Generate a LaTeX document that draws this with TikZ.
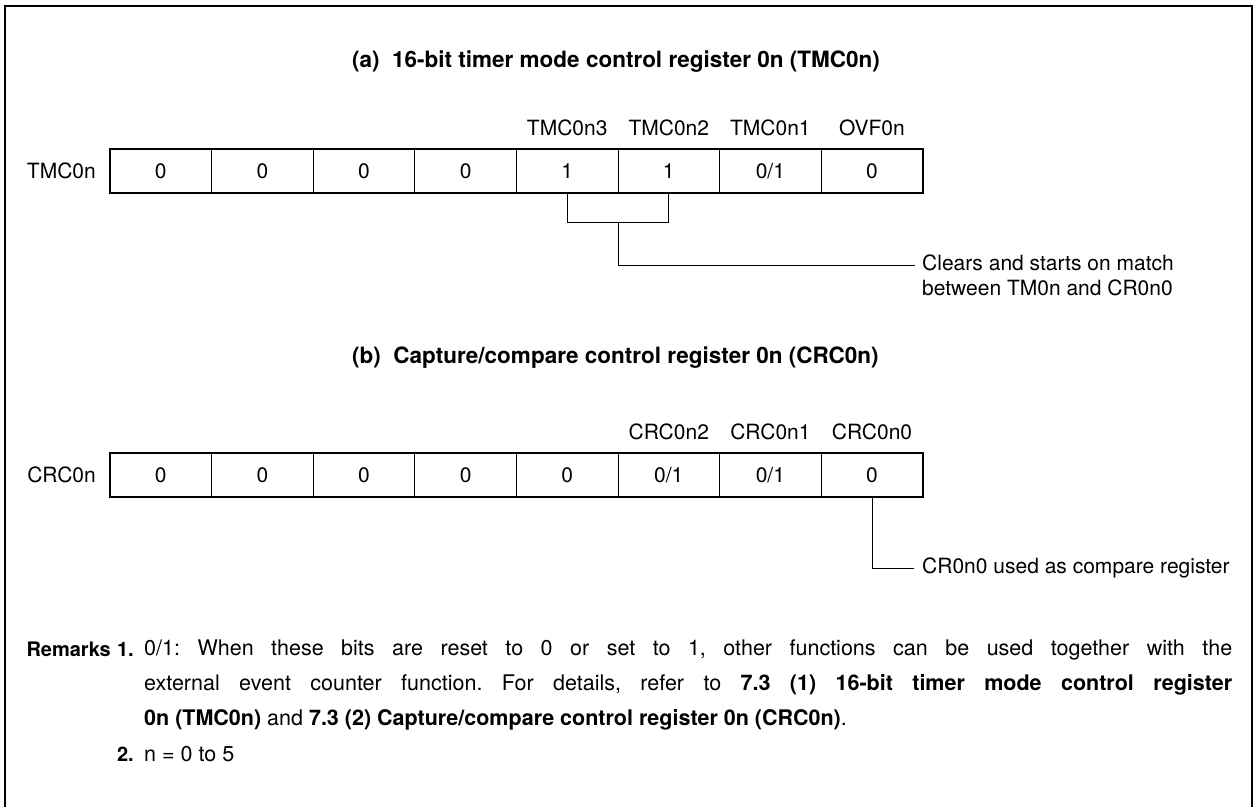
\documentclass[tikz,border=0pt]{standalone}
\usepackage{fontspec}
\setmainfont{TeX Gyre Heros}
\usetikzlibrary{positioning, fit, calc}

\begin{document}
\begin{tikzpicture}[
    x=1pt, y=-1pt,
    node distance=0pt,
    bit/.style={rectangle, draw, line width=0.9pt, minimum width=101.6pt, minimum height=44pt, inner sep=0pt, outer sep=0pt, font=\fontsize{21}{25}\selectfont},
    regbox/.style={rectangle, draw, line width=2.6pt, inner sep=0pt},
    bitname/.style={font=\fontsize{21}{25}\selectfont, inner sep=0pt},
    note/.style={font=\fontsize{21}{25}\selectfont, inner sep=0pt, align=left},
    title/.style={font=\fontsize{22.5}{26}\selectfont\bfseries, inner sep=0pt},
    remark/.style={font=\fontsize{21.5}{35}\selectfont\frenchspacing, inner sep=0pt},
    remnum/.style={font=\fontsize{20}{35}\selectfont\bfseries, inner sep=0pt},
    line/.style={line width=1pt},
    frame/.style={line width=2.6pt},
]
\useasboundingbox (0,0) rectangle (1255,807);
\draw[frame] (5,807) |- (1252,6) -- (1252,807);

%% NODES
    % (a) timer mode control register
    \node[title, anchor=west] (tmc_title) at (352,62) {(a)\ \ 16-bit timer mode control register 0n (TMC0n)};

    \node[bit] (tmc_b7) at (160.8,171) {0};
    \node[bit, right=of tmc_b7] (tmc_b6) {0};
    \node[bit, right=of tmc_b6] (tmc_b5) {0};
    \node[bit, right=of tmc_b5] (tmc_b4) {0};
    \node[bit, right=of tmc_b4] (tmc_b3) {1};
    \node[bit, right=of tmc_b3] (tmc_b2) {1};
    \node[bit, right=of tmc_b2] (tmc_b1) {0/1};
    \node[bit, right=of tmc_b1] (tmc_b0) {0};
    \node[regbox, fit=(tmc_b7) (tmc_b0)] (tmc_box) {};

    \node[bitname, left=14pt of tmc_b7] (tmc_name) {TMC0n};
    \node[bitname, above=13pt of tmc_b3] (tmc3_name) {TMC0n3};
    \node[bitname, above=13pt of tmc_b2] (tmc2_name) {TMC0n2};
    \node[bitname, above=13pt of tmc_b1] (tmc1_name) {TMC0n1};
    \node[bitname, above=13pt of tmc_b0] (ovf_name) {OVF0n};

    \coordinate (tmc_join) at ($(tmc_b3.south)!0.5!(tmc_b2.south) + (0,29)$);
    \coordinate (tmc_note_pt) at (915,265);
    \node[note, right=7pt of tmc_note_pt, anchor=north west, yshift=10pt] (tmc_note) {Clears and starts on match\\between TM0n and CR0n0};

    % (b) capture/compare control register
    \node[title, anchor=west] (crc_title) at (352,358) {(b)\ \ Capture/compare control register 0n (CRC0n)};

    \node[bit] (crc_b7) at (160.8,475) {0};
    \node[bit, right=of crc_b7] (crc_b6) {0};
    \node[bit, right=of crc_b6] (crc_b5) {0};
    \node[bit, right=of crc_b5] (crc_b4) {0};
    \node[bit, right=of crc_b4] (crc_b3) {0};
    \node[bit, right=of crc_b3] (crc_b2) {0/1};
    \node[bit, right=of crc_b2] (crc_b1) {0/1};
    \node[bit, right=of crc_b1] (crc_b0) {0};
    \node[regbox, fit=(crc_b7) (crc_b0)] (crc_box) {};

    \node[bitname, left=14pt of crc_b7] (crc_name) {CRC0n};
    \node[bitname, above=13pt of crc_b2] (crc2_name) {CRC0n2};
    \node[bitname, above=13pt of crc_b1] (crc1_name) {CRC0n1};
    \node[bitname, above=13pt of crc_b0] (crc0_name) {CRC0n0};

    \node[note, anchor=west] (crc_note) at (922,568) {CR0n0 used as compare register};

    % remarks
    \node[remnum, anchor=base east] (rem_head) at (111,656) {Remarks};
    \node[remnum, anchor=base east] (rem1_num) at (134,656) {1.};
    \node[remark, anchor=north west, text width=1088pt, align=justify] (rem1_txt) at (144,640) {\tolerance=10000\hyphenpenalty=10000 0/1: When these bits are reset to 0 or set to 1, other functions can be used together with the\linebreak external event counter function. For details, refer to \textbf{7.3 (1) 16-bit timer mode control register}\linebreak \textbf{0n (TMC0n)} and \textbf{7.3 (2) Capture/compare control register 0n (CRC0n)}.};
    \node[remnum, anchor=base east] (rem2_num) at (134,761) {2.};
    \node[remark, anchor=base west] (rem2_txt) at (144,761) {n = 0 to 5};

%% CONNECTIONS
    % TMC0n3, TMC0n2 -> note
    \draw[line] (tmc_b3.south) -- ++(0,29) -| (tmc_b2.south);
    \draw[line] (tmc_join) |- (tmc_note_pt);

    % CRC0n0 -> note
    \draw[line, shorten >=8pt] (crc_b0.south) |- (crc_note.west);

\end{tikzpicture}
\end{document}
